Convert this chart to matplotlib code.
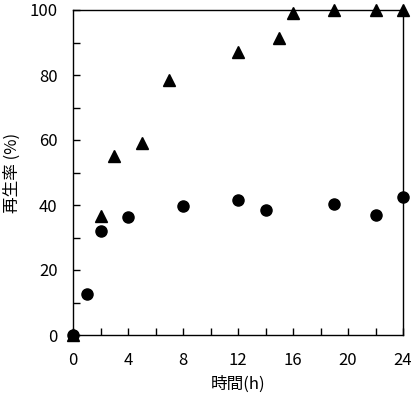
import matplotlib
matplotlib.use("Agg")
import matplotlib.pyplot as plt
from matplotlib.ticker import MultipleLocator

plt.rcParams['font.family'] = ['Noto Sans CJK JP', 'DejaVu Sans']

circle_x = [0, 1, 2, 4, 8, 12, 14, 19, 22, 24]
circle_y = [0, 12.5, 32, 36.2, 39.7, 41.6, 38.6, 40.3, 36.8, 42.6]
tri_x = [0, 2, 3, 5, 7, 12, 15, 16, 19, 22, 24]
tri_y = [0, 36.5, 55, 59.2, 78.5, 87, 91.5, 99, 100, 100, 100]
xticks = [0, 4, 8, 12, 16, 20, 24]
yticks = [0, 20, 40, 60, 80, 100]

fig = plt.figure(figsize=(4.16, 4.0), dpi=100)
ax = fig.add_axes([73/416, 1-335/400, 330/416, 325/400])
ax.plot(tri_x, tri_y, linestyle='none', marker='^', color='black', markersize=9, clip_on=False, zorder=3)
ax.plot(circle_x, circle_y, linestyle='none', marker='o', color='black', markersize=8, clip_on=False, zorder=4)
ax.set_xlim(0, 24)
ax.set_ylim(0, 100)
ax.set_xticks(xticks)
ax.set_yticks(yticks)
ax.xaxis.set_minor_locator(MultipleLocator(2))
ax.yaxis.set_minor_locator(MultipleLocator(10))
ax.tick_params(which='both', direction='in', length=5, width=1, labelsize=12)
ax.tick_params(axis='x', which='both', pad=12)
ax.tick_params(axis='y', which='both', pad=11)
ax.tick_params(which='both', top=False, right=False)
for s in ax.spines.values():
    s.set_linewidth(1)
ax.set_xlabel('時間(h)', fontsize=12, labelpad=5)
ax.set_ylabel('再生率 (%)', fontsize=12, labelpad=6)
fig.savefig('out.png', dpi=100)
